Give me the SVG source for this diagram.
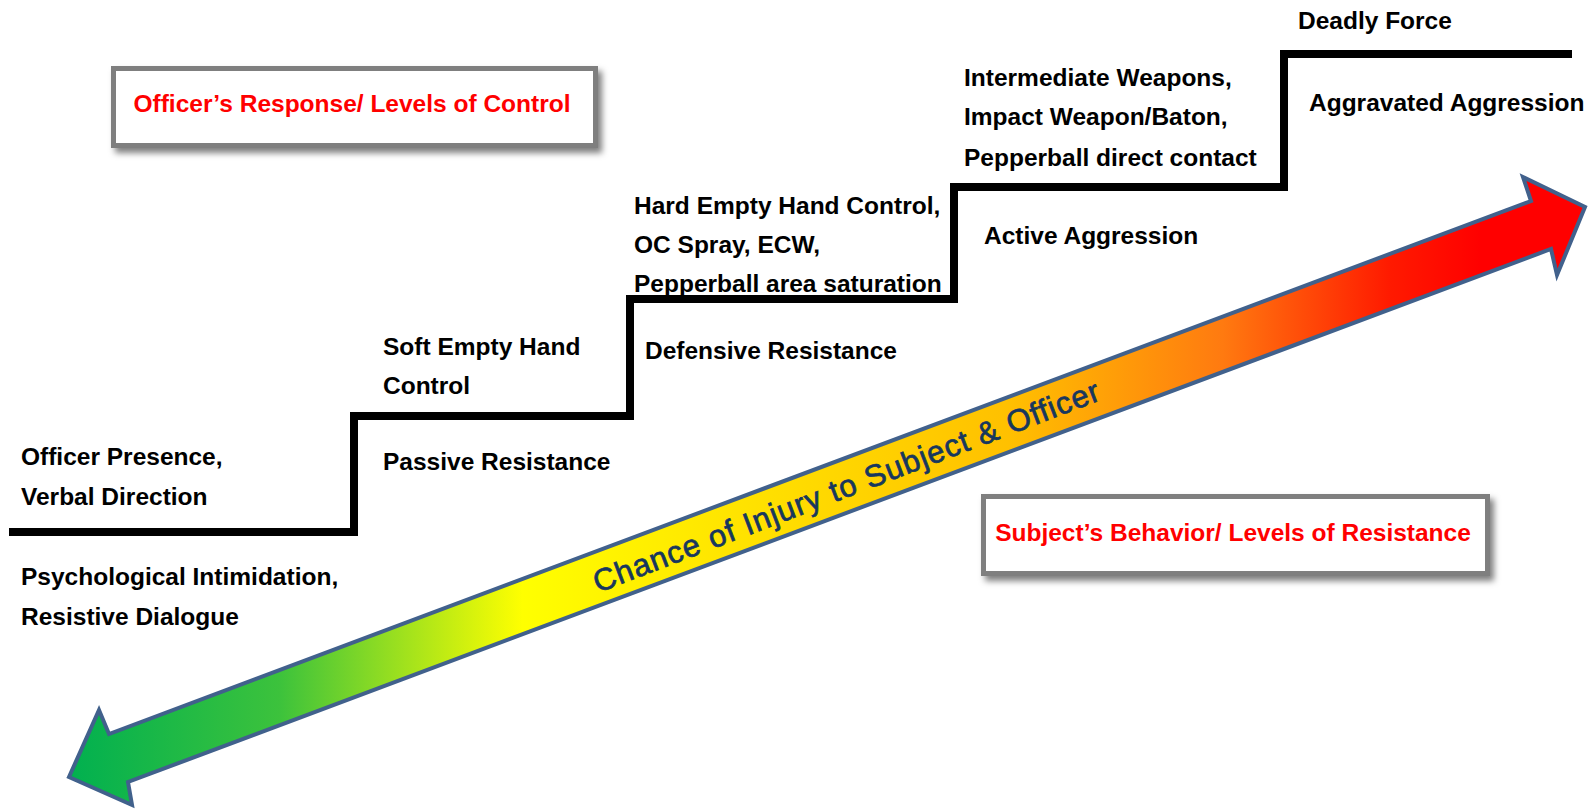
<svg xmlns="http://www.w3.org/2000/svg" width="1591" height="810" viewBox="0 0 1591 810">
<style>
.lbl{font-family:"Liberation Sans",Arial,sans-serif;font-weight:bold;font-size:24.5px;fill:#000}
.ttl{font-family:"Liberation Sans",Arial,sans-serif;font-weight:bold;font-size:24.5px;fill:#ff0000}
.box{fill:#fff;stroke:#7f7f7f;stroke-width:5}
.stair{fill:none;stroke:#000;stroke-width:8;stroke-linejoin:miter}
.arrowtxt{font-family:"Liberation Sans",Arial,sans-serif;font-size:31px;fill:#17375e;stroke:#17375e;stroke-width:0.7}
</style>
<defs>
<filter id="sh" x="-10%" y="-30%" width="125%" height="170%">
<feDropShadow dx="4" dy="5" stdDeviation="3" flood-color="#000" flood-opacity="0.5"/>
</filter>
<linearGradient id="grad" gradientUnits="userSpaceOnUse" x1="66" y1="0" x2="1588" y2="0">
<stop offset="0" stop-color="#00b050"/>
<stop offset="0.14" stop-color="#3cc23c"/>
<stop offset="0.30" stop-color="#ffff00"/>
<stop offset="0.62" stop-color="#ffc000"/>
<stop offset="0.76" stop-color="#ff7a10"/>
<stop offset="0.87" stop-color="#ff1a00"/>
<stop offset="0.93" stop-color="#ff0000"/>
<stop offset="1" stop-color="#ff0000"/>
</linearGradient>
</defs>
<rect width="1591" height="810" fill="#fff"/>

<g id="connectors">
<polyline class="stair" points="9,532 354,532 354,416 630,416 630,299 954,299 954,187 1284,187 1284,54 1572,54"/>
<path id="injury-arrow" d="M69,777 L99,710 L109,734 L1531,201 L1523,177 L1585,207 L1557,275 L1551,249 L128,782 L132,805 Z" fill="url(#grad)" stroke="#41618c" stroke-width="4" stroke-linejoin="miter"/>
</g>

<g id="box-officer" filter="url(#sh)">
<rect class="box" x="113.5" y="68.5" width="482" height="77"/>
</g>
<g id="title-officer"><text class="ttl" x="352" y="112" text-anchor="middle">Officer’s Response/ Levels of Control</text></g>

<g id="box-subject" filter="url(#sh)">
<rect class="box" x="983.5" y="496.5" width="504" height="77"/>
</g>
<g id="title-subject"><text class="ttl" x="1233" y="541" text-anchor="middle">Subject’s Behavior/ Levels of Resistance</text></g>

<g id="arrow-label">
<text class="arrowtxt" x="846" y="497" text-anchor="middle" textLength="540" lengthAdjust="spacing" transform="rotate(-21 846 486)">Chance of Injury to Subject &amp; Officer</text>
</g>

<g id="level1-control"><text class="lbl" x="21" y="465">Officer Presence,</text><text class="lbl" x="21" y="505">Verbal Direction</text></g>
<g id="level1-resistance"><text class="lbl" x="21" y="585">Psychological Intimidation,</text><text class="lbl" x="21" y="625">Resistive Dialogue</text></g>

<g id="level2-control"><text class="lbl" x="383" y="355">Soft Empty Hand</text><text class="lbl" x="383" y="394">Control</text></g>
<g id="level2-resistance"><text class="lbl" x="383" y="470">Passive Resistance</text></g>

<g id="level3-control"><text class="lbl" x="634" y="214">Hard Empty Hand Control,</text><text class="lbl" x="634" y="253">OC Spray, ECW,</text><text class="lbl" x="634" y="292">Pepperball area saturation</text></g>
<g id="level3-resistance"><text class="lbl" x="645" y="359">Defensive Resistance</text></g>

<g id="level4-control"><text class="lbl" x="964" y="86">Intermediate Weapons,</text><text class="lbl" x="964" y="125">Impact Weapon/Baton,</text><text class="lbl" x="964" y="166">Pepperball direct contact</text></g>
<g id="level4-resistance"><text class="lbl" x="984" y="244">Active Aggression</text></g>

<g id="level5-control"><text class="lbl" x="1298" y="29">Deadly Force</text></g>
<g id="level5-resistance"><text class="lbl" x="1309" y="111">Aggravated Aggression</text></g>
</svg>
